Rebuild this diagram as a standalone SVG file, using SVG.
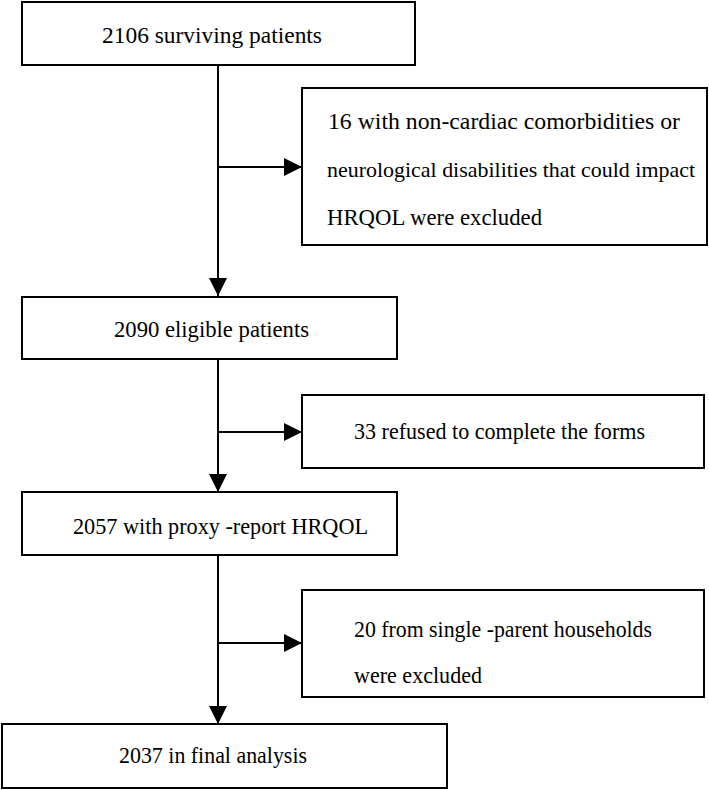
<svg xmlns="http://www.w3.org/2000/svg" width="709" height="790" viewBox="0 0 709 790">
<style>
.box{fill:#fff;stroke:#000;stroke-width:2}
.t{font-family:"Liberation Serif","Times New Roman",serif;font-size:24px;fill:#000}
.s{font-size:22px}
.ln{stroke:#000;stroke-width:2;fill:none}
</style>
<defs>
<marker id="ahb" viewBox="0 0 10 10" refX="10" refY="5" markerWidth="18" markerHeight="18" markerUnits="userSpaceOnUse" orient="auto">
<path d="M0,0 L10,5 L0,10 z" fill="#000"/>
</marker>
</defs>
<rect width="709" height="790" fill="#fff"/>
<g id="connectors">
<line class="ln" x1="218" y1="65" x2="218" y2="296" marker-end="url(#ahb)"/>
<line class="ln" x1="218" y1="167" x2="302" y2="167" marker-end="url(#ahb)"/>
<line class="ln" x1="218" y1="359" x2="218" y2="492" marker-end="url(#ahb)"/>
<line class="ln" x1="218" y1="432" x2="302" y2="432" marker-end="url(#ahb)"/>
<line class="ln" x1="218" y1="555" x2="218" y2="724" marker-end="url(#ahb)"/>
<line class="ln" x1="218" y1="643" x2="302" y2="643" marker-end="url(#ahb)"/>
</g>
<g id="n1">
<rect class="box" x="22" y="2" width="393" height="63"/>
<text class="t" x="102" y="43" textLength="220" lengthAdjust="spacingAndGlyphs">2106  surviving patients</text>
</g>
<g id="n2">
<rect class="box" x="302" y="88" width="405" height="157"/>
<text class="t" x="328" y="129" textLength="352" lengthAdjust="spacingAndGlyphs">16  with   non-cardiac  comorbidities  or</text>
<text class="t s" x="327" y="177" textLength="368" lengthAdjust="spacingAndGlyphs">neurological disabilities  that could impact</text>
<text class="t" x="327" y="225" textLength="215" lengthAdjust="spacingAndGlyphs">HRQOL were excluded</text>
</g>
<g id="n3">
<rect class="box" x="22" y="297" width="375" height="62"/>
<text class="t" x="114" y="337" textLength="195" lengthAdjust="spacingAndGlyphs">2090  eligible patients</text>
</g>
<g id="n4">
<rect class="box" x="302" y="395" width="402" height="73"/>
<text class="t" x="354" y="439" textLength="291" lengthAdjust="spacingAndGlyphs">33 refused to complete the forms</text>
</g>
<g id="n5">
<rect class="box" x="22" y="492" width="375" height="63"/>
<text class="t" x="73" y="534" textLength="295" lengthAdjust="spacingAndGlyphs">2057 with proxy -report HRQOL</text>
</g>
<g id="n6">
<rect class="box" x="302" y="590" width="402" height="107"/>
<text class="t" x="354" y="637" textLength="298" lengthAdjust="spacingAndGlyphs">20 from single -parent households</text>
<text class="t" x="354" y="683" textLength="128" lengthAdjust="spacingAndGlyphs">were excluded</text>
</g>
<g id="n7">
<rect class="box" x="2" y="724" width="445" height="64"/>
<text class="t" x="119" y="763" textLength="188" lengthAdjust="spacingAndGlyphs">2037 in final analysis</text>
</g>
</svg>
